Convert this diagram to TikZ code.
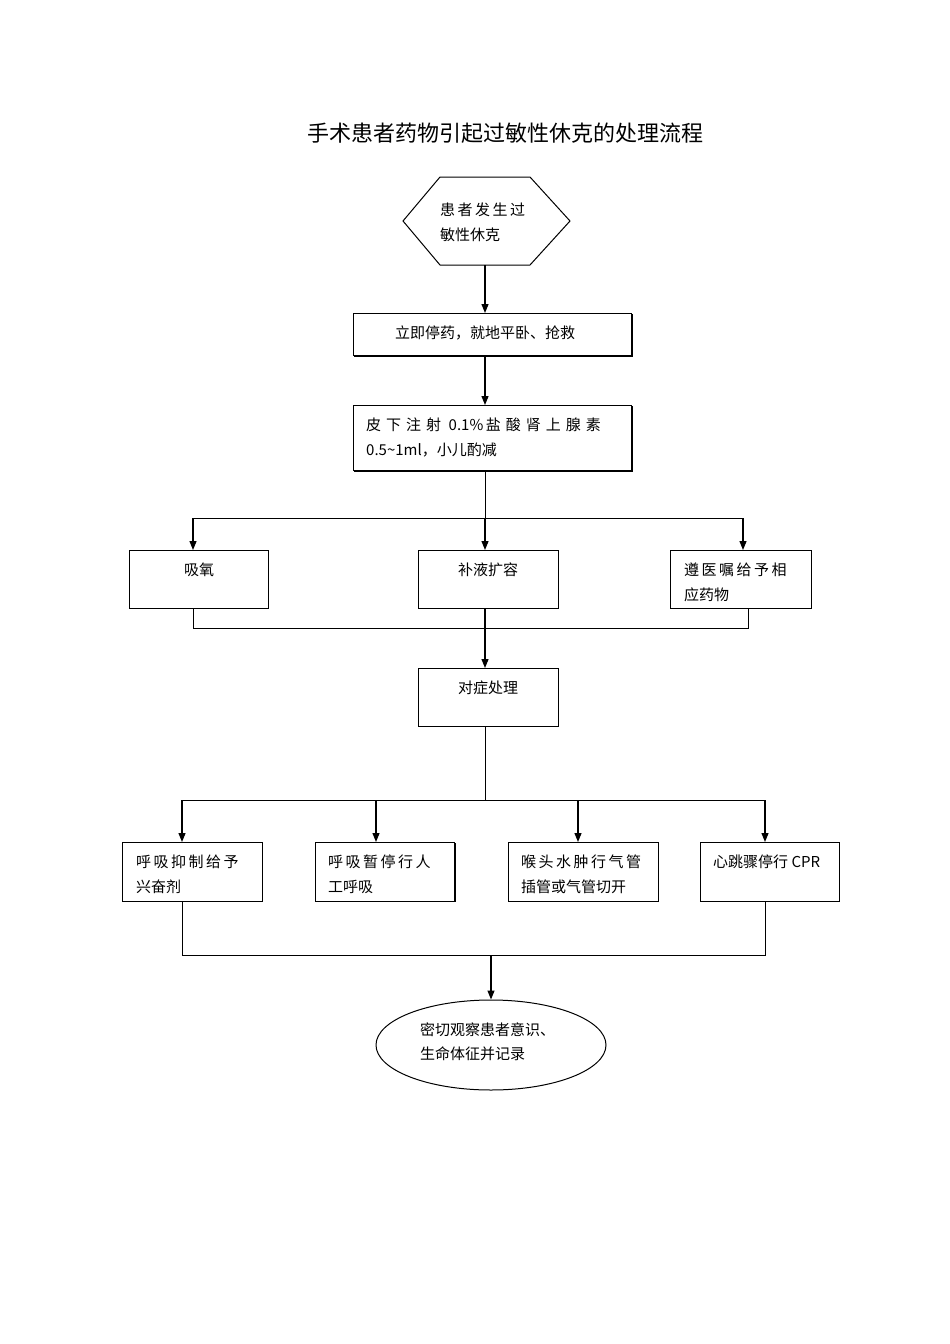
\documentclass[tikz,border=0pt]{standalone}
\usepackage{fontspec}
\newfontfamily\cjk{Noto Sans CJK SC}
\usetikzlibrary{arrows.meta,shapes.geometric}
\begin{document}
\begin{tikzpicture}[x=1pt,y=-1pt,
  bx/.style={draw,line width=1pt,inner sep=0pt},
  sh/.style={draw,line width=2pt},
  t/.style={font=\cjk\fontsize{15}{15}\selectfont,anchor=west,inner sep=0pt},
  ar/.style={line width=1.2pt,-{Triangle[length=9pt,width=7pt]}},
  ln/.style={line width=0.8pt}]
\useasboundingbox (0,0) rectangle (950,1344);
\node[font=\cjk\fontsize{22}{22}\selectfont] (title) at (505,133) {手术患者药物引起过敏性休克的处理流程};
% hexagon
\draw[line width=1pt] (403,221) -- (440,177) -- (530,177) -- (570,221) -- (530,265) -- (440,265) -- cycle;
\coordinate (hb) at (485,265);
\node[t] at (440,210) {患\,者\,发\,生\,过};
\node[t] at (440,235) {敏性休克};
% box1
\draw[sh] (354,356) -- (632,356) -- (632,314);
\draw[bx] (353,313) rectangle (631,355);
\node[t,anchor=center] (b1) at (485,333) {立即停药，就地平卧、抢救};
\coordinate (b1t) at (485,313); \coordinate (b1b) at (485,355);
\draw[ar] (hb) -- (b1t);
% box2
\draw[sh] (354,471) -- (632,471) -- (632,406);
\draw[bx] (353,405) rectangle (631,470);
\node[t] at (366,425) {皮\,\,下\,\,注\,\,射\,\,\,0.1\%\,盐\,\,酸\,\,肾\,\,上\,\,腺\,\,素};
\node[t] at (366,450) {0.5\textasciitilde1ml，小儿酌减};
\coordinate (b2t) at (485,405); \coordinate (b2b) at (485,470);
\draw[ar] (b1b) -- (b2t);
% split 1
\coordinate (s1) at (485,518);
\coordinate (s1l) at (193,518); \coordinate (s1r) at (743,518);
\draw[ln] (b2b) -- (s1); \draw[ln] (s1l) -- (s1r);
\coordinate (r3a) at (193,550); \coordinate (r3b) at (485,550); \coordinate (r3c) at (743,550);
\draw[ar] (s1l) -- (r3a); \draw[ar] (s1) -- (r3b); \draw[ar] (s1r) -- (r3c);
\draw[bx] (129,550) rectangle (268,608);
\draw[bx] (418,550) rectangle (558,608);
\draw[bx] (670,550) rectangle (811,608);
\node[t,anchor=center] at (199,570) {吸氧};
\node[t,anchor=center] at (488,570) {补液扩容};
\node[t] at (684,570) {遵\,医\,嘱\,给\,予\,相};
\node[t] at (684,595) {应药物};
% merge
\coordinate (m1l) at (193,628); \coordinate (m1r) at (748,628); \coordinate (m1) at (485,628);
\draw[ln] (193,608) -- (m1l) -- (m1r) -- (748,608);
\coordinate (b5t) at (485,668);
\draw[ar] (485,608) -- (b5t);
\draw[bx] (418,668) rectangle (558,726);
\node[t,anchor=center] at (488,688) {对症处理};
% split 2
\coordinate (s2) at (485,800);
\draw[ln] (485,726) -- (s2);
\draw[ln] (182,800) -- (765,800);
\foreach \x in {182,376,578,765} \draw[ar] (\x,800) -- (\x,842);
\draw[bx] (122,842) rectangle (262,901);
\draw[sh] (455,843) -- (455,902);
\draw[bx] (315,842) rectangle (454,901);
\draw[bx] (508,842) rectangle (658,901);
\draw[bx] (700,842) rectangle (839,901);
\node[t] at (136,862) {呼\,吸\,抑\,制\,给\,予};
\node[t] at (136,887) {兴奋剂};
\node[t] at (328,862) {呼\,吸\,暂\,停\,行\,人};
\node[t] at (328,887) {工呼吸};
\node[t] at (521,862) {喉\,头\,水\,肿\,行\,气\,管};
\node[t] at (521,887) {插管或气管切开};
\node[t] at (713,862) {心跳骤停行 CPR};
% merge 2
\draw[ln] (182,901) -- (182,955) -- (765,955) -- (765,901);
\coordinate (m2) at (491,955);
\node[draw,line width=1pt,ellipse,minimum width=230pt,minimum height=90pt] (el) at (491,1045) {};
\draw[ar] (m2) -- (el.north);
\node[t] at (420,1030) {密切观察患者意识、};
\node[t] at (420,1054) {生命体征并记录};
\end{tikzpicture}
\end{document}
